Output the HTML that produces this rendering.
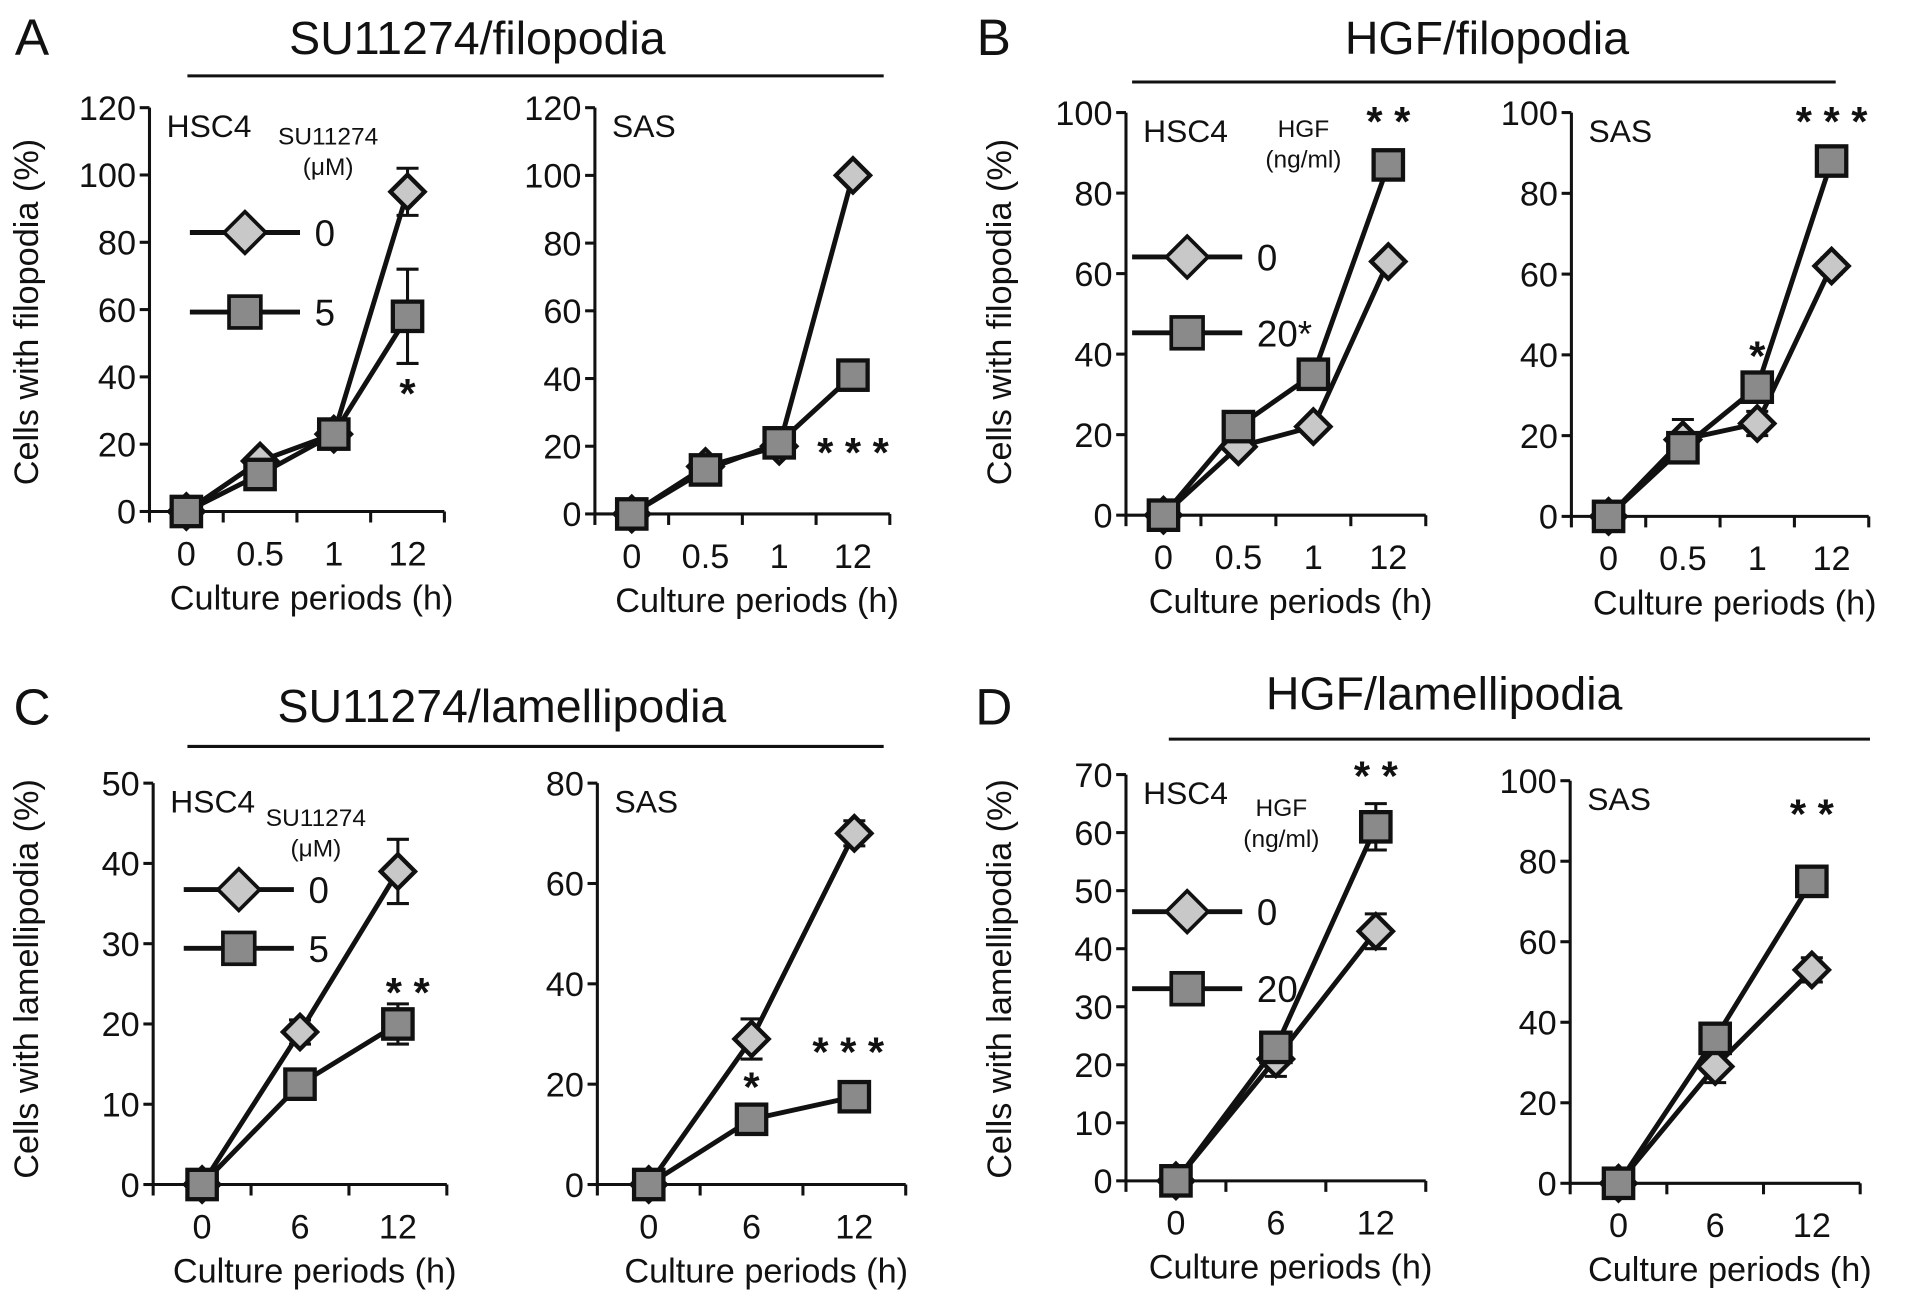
<!DOCTYPE html>
<html><head><meta charset="utf-8"><style>
html,body{margin:0;padding:0;background:#fff}
svg{display:block;font-family:"Liberation Sans",sans-serif}
</style></head><body>
<svg id="fig" width="1913" height="1313" viewBox="0 0 1563 1073" xmlns="http://www.w3.org/2000/svg"></svg>
<script>
// ---- data ----
const catsFilo = ["0","0.5","1","12"];
const catsLam = ["0","6","12"];
const aHscCtrl = [0,15,23,95];   const aHscCtrlErr = [0,0,0,7];
const aHscSu = [0,11,23,58];     const aHscSuErr = [0,0,0,14];
const aSasCtrl = [0,14,20,100];  const aSasCtrlErr = [0,0,0,0];
const aSasSu = [0,13,21,41];     const aSasSuErr = [0,0,0,0];
const bHscCtrl = [0,17,22,63];   const bHscCtrlErr = [0,0,0,1.5];
const bHscHgf = [0,22,35,87];    const bHscHgfErr = [0,0,0,0];
const bSasCtrl = [0,19,23,62];   const bSasCtrlErr = [0,5,3,2];
const bSasHgf = [0,17,32,88];    const bSasHgfErr = [0,0,0,0];
const cHscCtrl = [0,19,39];      const cHscCtrlErr = [0,1.5,4];
const cHscSu = [0,12.5,20];      const cHscSuErr = [0,0,2.5];
const cSasCtrl = [0,29,70];      const cSasCtrlErr = [0,4,2.5];
const cSasSu = [0,13,17.5];      const cSasSuErr = [0,0,0];
const dHscCtrl = [0,21,43];      const dHscCtrlErr = [0,3,3];
const dHscHgf = [0,23,61];       const dHscHgfErr = [0,0,4];
const dSasCtrl = [0,29,53];      const dSasCtrlErr = [0,4,3];
const dSasHgf = [0,36,75];       const dSasHgfErr = [0,0,0];
const ticksA = [0,20,40,60,80,100,120];
const ticksB = [0,20,40,60,80,100];
const ticksC = [0,10,20,30,40,50];
const ticksCs = [0,20,40,60,80];
const ticksD = [0,10,20,30,40,50,60,70];

const NS="http://www.w3.org/2000/svg";
const svg=document.getElementById('fig');
function mk(tag,attrs,parent){const e=document.createElementNS(NS,tag);for(const k in attrs)e.setAttribute(k,attrs[k]);(parent||svg).appendChild(e);return e;}
function txt(s,x,y,size,name,anchor,parent,extra){const t=mk('text',Object.assign({x:x,y:y,'font-size':size,'text-anchor':anchor||'middle',fill:'#111'},extra||{}),parent);t.textContent=s;


return t;}

function panel(p){
  const g=mk('g',{});
  
  
  const n=p.cats.length, w=(p.xEnd-p.x0)/n;
  const X=i=>p.x0+w*(i+0.5);
  const ymax=p.ticks[p.ticks.length-1];
  const Y=v=>p.y0-(p.y0-p.yTop)*v/ymax;
  const ax=mk('path',{d:`M${p.x0} ${p.yTop} V${p.y0} H${p.xEnd}`,stroke:'#111','stroke-width':2.5,fill:'none'},g);
  
  
  p.ticks.forEach(t=>{
    const tk=mk('line',{x1:p.x0-8,x2:p.x0,y1:Y(t),y2:Y(t),stroke:'#111','stroke-width':2.5},g);
    
    
    txt(String(t),p.x0-11,Y(t)+10,28,'y-tick-label','end',g);
  });
  for(let i=0;i<=n;i++){
    const tk=mk('line',{x1:p.x0+w*i,x2:p.x0+w*i,y1:p.y0,y2:p.y0+9,stroke:'#111','stroke-width':2.5},g);
    
    
  }
  p.cats.forEach((c,i)=>txt(c,X(i),p.y0+44,28,'x-tick-label','middle',g));
  txt('Culture periods (h)',(p.x0+p.xEnd)/2+12,p.y0+80,28,'x-axis-title','middle',g);
  txt(p.cell,p.x0+14,p.yTop+24,26,'cell-line-label','start',g);
  const series=[[p.ctrl,p.ctrlErr,'diamond'],[p.trt,p.trtErr,'square']];
  series.forEach(([vals,errs,shape])=>{
    const d=vals.map((v,i)=>(i?'L':'M')+X(i)+' '+Y(v)).join(' ');
    const l=mk('path',{d:d,stroke:'#111','stroke-width':4,fill:'none'},g);
    
    
  });
  series.forEach(([vals,errs,shape])=>{
    vals.forEach((v,i)=>{
      const e=errs[i];
      if(e>0){
        const eb=mk('path',{d:`M${X(i)} ${Y(v+e)} V${Y(v-e)} M${X(i)-9} ${Y(v+e)} H${X(i)+9} M${X(i)-9} ${Y(v-e)} H${X(i)+9}`,stroke:'#111','stroke-width':2.5,fill:'none'},g);
        
        
      }
      let m;
      if(shape==='diamond'){
        const x=X(i),y=Y(v),r=14;
        m=mk('path',{d:`M${x} ${y-r} L${x+r} ${y} L${x} ${y+r} L${x-r} ${y} Z`,fill:'#c8c8c8',stroke:'#111','stroke-width':3.5},g);
        
      } else {
        m=mk('rect',{x:X(i)-12,y:Y(v)-12,width:24,height:24,fill:'#8a8a8a',stroke:'#111','stroke-width':3.5},g);
        
      }
      
    });
  });
  (p.stars||[]).forEach(s=>txt(s[0].split('').join(' '),X(s[1])+(s[3]||0),Y(s[2])+6,34,'significance-marker','middle',g,{'font-weight':'bold'}));
  return g;
}
function legend(x,yd,ys,lblD,lblS,h1,h2,hx,hy){
  const g=mk('g',{});
  
  
  txt(h1,hx,hy,20,'legend-title','middle',g);
  txt(h2,hx,hy+25,20,'legend-unit','middle',g);
  [[yd,lblD,'diamond'],[ys,lblS,'square']].forEach(([y,l,s])=>{
    const ln=mk('line',{x1:x,x2:x+90,y1:y,y2:y,stroke:'#111','stroke-width':4},g);
    
    
    let m;
    if(s==='diamond'){m=mk('path',{d:`M${x+45} ${y-17} L${x+62} ${y} L${x+45} ${y+17} L${x+28} ${y} Z`,fill:'#c8c8c8',stroke:'#111','stroke-width':3},g);}
    else{m=mk('rect',{x:x+32,y:y-13,width:26,height:26,fill:'#8a8a8a',stroke:'#111','stroke-width':3},g);}
    
    
    txt(l,x+102,y+11,30,'legend-label','start',g);
  });
}
function header(letter,lx,ly,title,tx,ty,l1,l2,lyLine){
  txt(letter,lx,ly,42,'panel-letter','middle');
  txt(title,tx,ty,38,'panel-title','middle');
  const l=mk('line',{x1:l1,x2:l2,y1:lyLine,y2:lyLine,stroke:'#111','stroke-width':2.5});
  
  
}
function ylab(s,x,y){txt(s,x,y,28,'y-axis-title','middle',null,{transform:`rotate(-90 ${x} ${y})`});}

// Panel A
header('A',26,45,'SU11274/filopodia',390,44,153,722,62);
ylab('Cells with filopodia (%)',31,255);
panel({name:'panel-a-hsc4',cats:catsFilo,x0:122,xEnd:363,y0:418,yTop:88,ticks:ticksA,cell:'HSC4',ctrl:aHscCtrl,ctrlErr:aHscCtrlErr,trt:aHscSu,trtErr:aHscSuErr,stars:[['*',3,33]]});
legend(155,190,255,'0','5','SU11274','(μM)',268,118);
panel({name:'panel-a-sas',cats:catsFilo,x0:486,xEnd:727,y0:420,yTop:88,ticks:ticksA,cell:'SAS',ctrl:aSasCtrl,ctrlErr:aSasCtrlErr,trt:aSasSu,trtErr:aSasSuErr,stars:[['***',3,16,0]]});
// Panel B
header('B',812,45,'HGF/filopodia',1215,44,925,1500,67);
ylab('Cells with filopodia (%)',826,255);
panel({name:'panel-b-hsc4',cats:catsFilo,x0:920,xEnd:1165,y0:421,yTop:92,ticks:ticksB,cell:'HSC4',ctrl:bHscCtrl,ctrlErr:bHscCtrlErr,trt:bHscHgf,trtErr:bHscHgfErr,stars:[['**',3,96]]});
legend(925,210,272,'0','20*','HGF','(ng/ml)',1065,112);
panel({name:'panel-b-sas',cats:catsFilo,x0:1284,xEnd:1527,y0:422,yTop:92,ticks:ticksB,cell:'SAS',ctrl:bSasCtrl,ctrlErr:bSasCtrlErr,trt:bSasHgf,trtErr:bSasHgfErr,stars:[['*',2,38],['***',3,96]]});
// Panel C
header('C',26,592,'SU11274/lamellipodia',410,590,153,722,610);
ylab('Cells with lamellipodia (%)',31,800);
panel({name:'panel-c-hsc4',cats:catsLam,x0:125,xEnd:365,y0:968,yTop:640,ticks:ticksC,cell:'HSC4',ctrl:cHscCtrl,ctrlErr:cHscCtrlErr,trt:cHscSu,trtErr:cHscSuErr,stars:[['**',2,23,8]]});
legend(150,727,775,'0','5','SU11274','(μM)',258,675);
panel({name:'panel-c-sas',cats:catsLam,x0:488,xEnd:740,y0:968,yTop:640,ticks:ticksCs,cell:'SAS',ctrl:cSasCtrl,ctrlErr:cSasCtrlErr,trt:cSasSu,trtErr:cSasSuErr,stars:[['*',1,18],['***',2,25,-5]]});
// Panel D
header('D',812,592,'HGF/lamellipodia',1180,580,955,1528,604);
ylab('Cells with lamellipodia (%)',826,800);
panel({name:'panel-d-hsc4',cats:catsLam,x0:920,xEnd:1165,y0:965,yTop:633,ticks:ticksD,cell:'HSC4',ctrl:dHscCtrl,ctrlErr:dHscCtrlErr,trt:dHscHgf,trtErr:dHscHgfErr,stars:[['**',2,68.5]]});
legend(925,745,808,'0','20','HGF','(ng/ml)',1047,667);
panel({name:'panel-d-sas',cats:catsLam,x0:1283,xEnd:1520,y0:967,yTop:638,ticks:ticksB,cell:'SAS',ctrl:dSasCtrl,ctrlErr:dSasCtrlErr,trt:dSasHgf,trtErr:dSasHgfErr,stars:[['**',2,90]]});
</script>
</body></html>
